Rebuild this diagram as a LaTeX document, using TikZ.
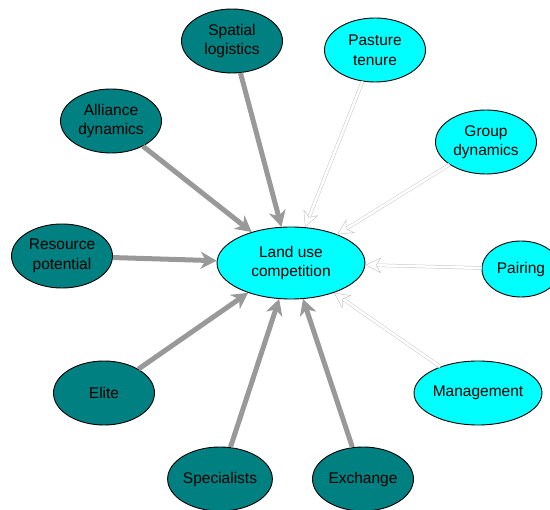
\documentclass[tikz,border=0pt]{standalone}
\usepackage{fontspec}
\setmainfont{Liberation Sans}
\usetikzlibrary{shapes.geometric,arrows.meta}
\definecolor{tealnode}{HTML}{008080}
\definecolor{cyannode}{HTML}{00FFFF}
\definecolor{arrowgray}{HTML}{999999}
\definecolor{ghost}{HTML}{C8C8C8}
\begin{document}
\begin{tikzpicture}[x=1pt,y=-1pt,
  base/.style={ellipse, draw=black, line width=0.9pt, inner sep=0pt, align=center,
    font=\fontsize{15.5}{19.5}\selectfont, minimum width=101pt, minimum height=64pt},
  darknode/.style={base, fill=tealnode},
  lightnode/.style={base, fill=cyannode},
  strong/.style={draw=arrowgray, line width=5pt, -{Stealth[length=16pt,width=17pt,inset=5pt]}},
  weak/.style={draw=ghost, line width=0.5pt, double=white, double distance=2.5pt,
    -{Stealth[open,fill=white,length=16pt,width=16pt,inset=5pt]}}]
\useasboundingbox (0,0) rectangle (550,510);
\node[lightnode, minimum width=148pt, minimum height=72pt] (land) at (291,263) {Land use\\competition};
\node[darknode] (spatial) at (232,41) {Spatial\\logistics};
\node[lightnode] (pasture) at (375,50) {Pasture\\tenure};
\node[darknode] (alliance) at (111,121) {Alliance\\dynamics};
\node[lightnode] (group) at (486,142) {Group\\dynamics};
\node[darknode] (resource) at (62,256) {Resource\\potential};
\node[lightnode, minimum width=78pt, minimum height=56pt] (pairing) at (521,269) {Pairing};
\node[darknode] (elite) at (104,393) {Elite};
\node[lightnode] (management) at (478,393) {Management};
\node[darknode] (specialists) at (220,479) {Specialists};
\node[darknode] (exchange) at (363,479) {Exchange};
\draw[strong] (spatial) -- (land);
\draw[strong] (alliance) -- (land);
\draw[strong] (resource) -- (land);
\draw[strong] (elite) -- (land);
\draw[strong] (specialists) -- (land);
\draw[strong] (exchange) -- (land);
\draw[weak] (pasture) -- (land);
\draw[weak] (group) -- (land);
\draw[weak] (pairing) -- (land);
\draw[weak] (management) -- (land);
\end{tikzpicture}
\end{document}
